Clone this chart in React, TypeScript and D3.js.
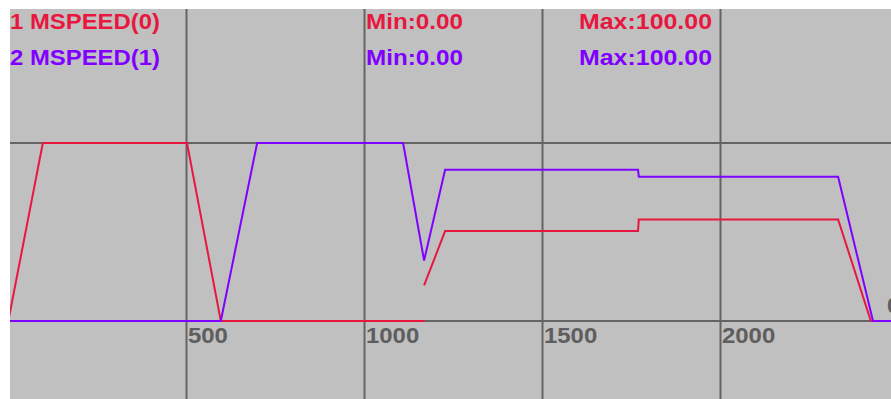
import React from "react";
import * as d3 from "d3";

// Series data (time, value); NaN marks a break in the trace
const redT = [0, 95, 500, 595, 1168, NaN, 1166, 1225, 1767, 1769, 2329, 2421, 2478];
const redV = [2, 100, 100, 0, 0, NaN, 20, 50.5, 50.5, 57, 57, 0, 0];
const purT = [0, 595, 697, 1107, 1166, 1225, 1767, 1769, 2329, 2427, 2478];
const purV = [0, 0, 100, 100, 34, 85, 85, 81, 81, 0, 0];

const seriesNames = ["1 MSPEED(0)", "2 MSPEED(1)"];
const seriesMin = [0, 0];
const seriesMax = [100, 100];
const seriesColors = ["#e8173f", "#8000ff"];

const xTicks = [500, 1000, 1500, 2000];
const xGrid = [0, 500, 1000, 1500, 2000, 2500];
const yGrid = [0, 100];
const rightLabel = "0";

const W = 891;
const H = 399;

export default function App() {
  const x = d3.scaleLinear().domain([0, 2500]).range([9, 9 + 2500 * 0.356]);
  const y = d3.scaleLinear().domain([0, 100]).range([321, 143]);

  const mk = (T: number[], V: number[]) =>
    d3
      .line<number>()
      .defined((i) => !isNaN(T[i]) && !isNaN(V[i]))
      .x((i) => x(T[i]))
      .y((i) => y(V[i]))(d3.range(T.length)) || "";

  const redPath = mk(redT, redV);
  const purPath = mk(purT, purV);

  const font = "'Liberation Sans', Arial, sans-serif";
  const gridColor = "#646464";

  return (
    <svg
      width={W}
      height={H}
      style={{ position: "absolute", left: 0, top: 0, display: "block" }}
    >
      <defs>
        <clipPath id="plotclip">
          <rect x={10} y={9} width={W - 10} height={H - 9} />
        </clipPath>
      </defs>
      <rect x={0} y={0} width={W} height={H} fill="#ffffff" />
      <rect x={10} y={9} width={W - 10} height={H - 9} fill="#c0c0c0" />
      <g clipPath="url(#plotclip)">
        {xGrid.map((v) => (
          <line
            key={"vx" + v}
            x1={x(v) - 0.5}
            x2={x(v) - 0.5}
            y1={0}
            y2={H}
            stroke={gridColor}
            strokeWidth={2}
          />
        ))}
        {yGrid.map((v) => (
          <line
            key={"hy" + v}
            x1={0}
            x2={W}
            y1={y(v)}
            y2={y(v)}
            stroke={gridColor}
            strokeWidth={2}
          />
        ))}
        {xTicks.map((v) => (
          <text
            key={"t" + v}
            x={x(v) + 1}
            y={343}
            fill="#5e5e5e"
            fontFamily={font}
            fontWeight="bold"
            fontSize={22.5}
            textLength={String(v).length * 13.3}
            lengthAdjust="spacingAndGlyphs"
          >
            {v}
          </text>
        ))}
        <text
          x={887}
          y={313}
          fill="#5e5e5e"
          fontFamily={font}
          fontWeight="bold"
          fontSize={22.5}
        >
          {rightLabel}
        </text>
        <path d={redPath} fill="none" stroke={seriesColors[0]} strokeWidth={2} />
        <path d={purPath} fill="none" stroke={seriesColors[1]} strokeWidth={2} />
        {seriesNames.map((n, i) => (
          <g key={n}>
            <text
              x={10}
              y={29 + i * 36}
              fill={seriesColors[i]}
              fontFamily={font}
              fontWeight="bold"
              fontSize={21.5}
              textLength={150}
              lengthAdjust="spacingAndGlyphs"
            >
              {n}
            </text>
            <text
              x={366}
              y={29 + i * 36}
              fill={seriesColors[i]}
              fontFamily={font}
              fontWeight="bold"
              fontSize={21.5}
              textLength={97}
              lengthAdjust="spacingAndGlyphs"
            >
              {"Min:" + seriesMin[i].toFixed(2)}
            </text>
            <text
              x={579}
              y={29 + i * 36}
              fill={seriesColors[i]}
              fontFamily={font}
              fontWeight="bold"
              fontSize={21.5}
              textLength={133}
              lengthAdjust="spacingAndGlyphs"
            >
              {"Max:" + seriesMax[i].toFixed(2)}
            </text>
          </g>
        ))}
      </g>
    </svg>
  );
}
